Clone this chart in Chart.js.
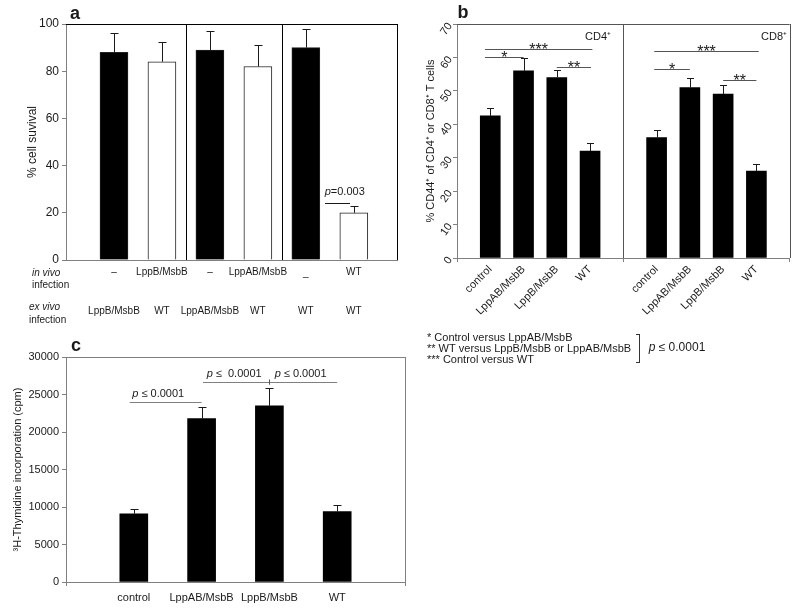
<!DOCTYPE html>
<html>
<head>
<meta charset="utf-8">
<script src="https://cdn.jsdelivr.net/npm/chart.js@4.4.0/dist/chart.umd.min.js"></script>
<style>
  body { margin: 0; background: #fff; }
  #wrap { position: relative; width: 800px; height: 608px; overflow: hidden; }
  canvas { position: absolute; }
</style>
</head>
<body>
<div id="wrap">
  <canvas id="chartA" width="400" height="330" style="left:0;top:0"></canvas>
  <canvas id="chartB" width="400" height="380" style="left:400px;top:0"></canvas>
  <canvas id="chartC" width="420" height="278" style="left:0;top:330px"></canvas>
</div>
<script>
'use strict'

const FONT = '"Liberation Sans", Arial, sans-serif';
const AXIS = '#808080';
const INK = '#1a1a1a';

// panel a : % cell survival
const aInVivo = ['–', 'LppB/MsbB', '–', 'LppAB/MsbB', '_', 'WT'];
const aExVivo = ['LppB/MsbB', 'WT', 'LppAB/MsbB', 'WT', 'WT', 'WT'];
const aSurvival = [88, 84, 89, 82, 90, 20];
const aSurvivalErr = [8, 8.5, 8, 9, 8, 3];
const aTicks = [0, 20, 40, 60, 80, 100];

// panel b : % CD44+ T cells
const bGroups = ['control', 'LppAB/MsbB', 'LppB/MsbB', 'WT'];
const bCD4 = [42.5, 56, 54, 32];
const bCD4Err = [2.4, 3.7, 2.3, 2.3];
const bCD8 = [36, 51, 49, 26];
const bCD8Err = [2.3, 2.8, 2.7, 2.2];
const bTicks = [0, 10, 20, 30, 40, 50, 60, 70];

// panel c : 3H-thymidine incorporation
const cGroups = ['control', 'LppAB/MsbB', 'LppB/MsbB', 'WT'];
const cThymidine = [9100, 21800, 23500, 9400];
const cThymidineErr = [600, 1500, 2400, 800];
const cTicks = [0, 5000, 10000, 15000, 20000, 25000, 30000];

// ---- helpers
function px(v) { return Math.round(v) + 0.5; }

function line(ctx, x1, y1, x2, y2, color) {
  ctx.save();
  ctx.strokeStyle = color || INK;
  ctx.lineWidth = 1;
  ctx.beginPath();
  ctx.moveTo(x1, y1);
  ctx.lineTo(x2, y2);
  ctx.stroke();
  ctx.restore();
}

function text(ctx, s, x, y, size, align, style) {
  ctx.save();
  ctx.font = (style || '') + ' ' + size + 'px ' + FONT;
  ctx.fillStyle = INK;
  ctx.textAlign = align || 'center';
  ctx.textBaseline = 'middle';
  ctx.fillText(s, x, y);
  ctx.restore();
}

// italic p followed by normal text, centred on x
function pText(ctx, rest, x, y, size) {
  ctx.save();
  ctx.font = 'italic ' + size + 'px ' + FONT;
  const wp = ctx.measureText('p').width;
  ctx.font = size + 'px ' + FONT;
  const wr = ctx.measureText(rest).width;
  const x0 = x - (wp + wr) / 2;
  ctx.fillStyle = INK;
  ctx.textBaseline = 'middle';
  ctx.textAlign = 'left';
  ctx.font = 'italic ' + size + 'px ' + FONT;
  ctx.fillText('p', x0, y);
  ctx.font = size + 'px ' + FONT;
  ctx.fillText(rest, x0 + wp, y);
  ctx.restore();
}

const errorBars = {
  id: 'errorBars',
  afterDatasetsDraw(chart) {
    const ctx = chart.ctx;
    const ys = chart.scales.y;
    chart.data.datasets.forEach((ds, i) => {
      chart.getDatasetMeta(i).data.forEach((bar, j) => {
        const top = ys.getPixelForValue(ds.data[j].y + ds.errors[j]);
        const x = px(bar.x);
        line(ctx, x, bar.y, x, px(top));
        line(ctx, x - ds.capHalf, px(top), x + ds.capHalf, px(top));
      });
    });
  }
};

function yAxis(min, max, ticks, title, titlePad, width, size, rot) {
  return {
    min: min, max: max,
    afterBuildTicks: s => { s.ticks = ticks.map(v => ({ value: v })); },
    ticks: { font: { family: FONT, size: size }, color: INK, padding: 3,
      minRotation: rot || 0, maxRotation: rot || 0, callback: v => String(v) },
    grid: { drawOnChartArea: false, tickLength: 4, color: AXIS },
    border: { color: AXIS },
    title: { display: true, text: title, color: INK, font: { family: FONT, size: size },
      padding: { top: titlePad, bottom: 0 } },
    afterFit: s => { s.width = width; }
  };
}

// ---- panel a
const panelA = {
  id: 'panelA',
  afterDraw(chart) {
    const ctx = chart.ctx;
    const a = chart.chartArea;
    const xs = chart.scales.x, ys = chart.scales.y;
    line(ctx, a.left, px(a.top), a.right, px(a.top), '#000');
    line(ctx, px(a.right), a.top, px(a.right), a.bottom, '#000');
    [2.5, 4.5].forEach(v => line(ctx, px(xs.getPixelForValue(v)), a.top, px(xs.getPixelForValue(v)), a.bottom, '#000'));
    aInVivo.forEach((s, i) => text(ctx, s, xs.getPixelForValue(i + 1), s === '_' ? 273 : 272, 10));
    aExVivo.forEach((s, i) => text(ctx, s, xs.getPixelForValue(i + 1), 311, 10));
    text(ctx, 'in vivo', 32, 273, 10, 'left', 'italic');
    text(ctx, 'infection', 32, 285, 10, 'left');
    text(ctx, 'ex vivo', 29, 307, 10, 'left', 'italic');
    text(ctx, 'infection', 29, 320, 10, 'left');
    const ly = px(ys.getPixelForValue(24.3));
    line(ctx, xs.getPixelForValue(5.4), ly, xs.getPixelForValue(5.92), ly);
    pText(ctx, '=0.003', xs.getPixelForValue(5.81), 192, 11);
    text(ctx, 'a', 75, 14, 18, 'center', 'bold');
  }
};

new Chart(document.getElementById('chartA'), {
  type: 'bar',
  data: {
    datasets: [{
      data: aSurvival.map((v, i) => ({ x: i + 1, y: v })),
      errors: aSurvivalErr,
      capHalf: 4,
      backgroundColor: aSurvival.map((v, i) => i % 2 ? '#fff' : '#000'),
      borderColor: '#222',
      borderWidth: 1,
      barThickness: 28,
      grouped: false
    }]
  },
  options: {
    responsive: false,
    animation: false,
    layout: { padding: { top: 24, right: 3, left: 0, bottom: 0 } },
    plugins: { legend: { display: false }, tooltip: { enabled: false } },
    scales: {
      x: {
        type: 'linear', min: 0, max: 6.9, offset: false,
        ticks: { display: false },
        grid: { display: false, offset: false },
        border: { color: AXIS },
        afterFit: s => { s.height = 70; }
      },
      y: yAxis(0, 100, aTicks, '% cell suvival', 25, 66, 12)
    }
  },
  plugins: [errorBars, panelA]
});

// ---- panel b
const bSig = [
  { from: 0.84, to: 4.07, y: 62.5, mark: '***' },
  { from: 0.84, to: 2.0, y: 60, mark: '*' },
  { from: 3.0, to: 4.03, y: 57, mark: '**' },
  { from: 5.93, to: 9.07, y: 61.9, mark: '***' },
  { from: 5.93, to: 7.0, y: 56.5, mark: '*' },
  { from: 8.0, to: 9.0, y: 53.3, mark: '**' }
];

const panelB = {
  id: 'panelB',
  afterDraw(chart) {
    const ctx = chart.ctx;
    const a = chart.chartArea;
    const xs = chart.scales.x, ys = chart.scales.y;
    line(ctx, a.left, px(a.top), a.right, px(a.top), '#555');
    line(ctx, px(a.right), a.top, px(a.right), a.bottom, '#555');
    const d = px(xs.getPixelForValue(5));
    line(ctx, d, a.top, d, a.bottom, '#555');
    bSig.forEach(s => {
      const y = px(ys.getPixelForValue(s.y));
      const x1 = xs.getPixelForValue(s.from), x2 = xs.getPixelForValue(s.to);
      line(ctx, x1, y, x2, y, '#555');
      ctx.save();
      ctx.font = '16px ' + FONT;
      ctx.fillStyle = INK;
      ctx.textAlign = 'center';
      ctx.textBaseline = 'alphabetic';
      ctx.fillText(s.mark, (x1 + x2) / 2, y + 5);
      ctx.restore();
    });
    text(ctx, 'CD4⁺', 211, 37, 11, 'right');
    text(ctx, 'CD8⁺', 387, 37, 11, 'right');
    text(ctx, '* Control versus LppAB/MsbB', 27, 338, 11, 'left');
    text(ctx, '** WT versus LppB/MsbB or LppAB/MsbB', 27, 349, 11, 'left');
    text(ctx, '*** Control versus WT', 27, 360, 11, 'left');
    line(ctx, 239.5, 334, 239.5, 363, '#333');
    line(ctx, 236, 334.5, 240, 334.5, '#333');
    line(ctx, 236, 362.5, 240, 362.5, '#333');
    pText(ctx, ' ≤ 0.0001', 277, 348, 12);
    text(ctx, 'b', 63, 13, 18, 'center', 'bold');
  }
};

new Chart(document.getElementById('chartB'), {
  type: 'bar',
  data: {
    datasets: [
      {
        label: 'CD4+',
        data: bCD4.map((v, i) => ({ x: i + 1, y: v })),
        errors: bCD4Err, capHalf: 3.5,
        backgroundColor: '#000', barThickness: 20, grouped: false
      },
      {
        label: 'CD8+',
        data: bCD8.map((v, i) => ({ x: i + 6, y: v })),
        errors: bCD8Err, capHalf: 3.5,
        backgroundColor: '#000', barThickness: 20, grouped: false
      }
    ]
  },
  options: {
    responsive: false,
    animation: false,
    layout: { padding: { top: 24, right: 9, left: 0, bottom: 0 } },
    plugins: { legend: { display: false }, tooltip: { enabled: false } },
    scales: {
      x: {
        type: 'linear', min: 0, max: 10, offset: false,
        ticks: {
          stepSize: 1, autoSkip: false, minRotation: 45, maxRotation: 45, padding: 1,
          font: { family: FONT, size: 11 }, color: INK,
          callback: v => (v >= 1 && v <= 4) ? bGroups[v - 1] : (v >= 6 && v <= 9) ? bGroups[v - 6] : ''
        },
        grid: {
          drawOnChartArea: false, tickLength: 4, color: AXIS, offset: false,
          tickColor: c => (c.tick && c.tick.value % 5 === 0) ? AXIS : 'rgba(0,0,0,0)'
        },
        border: { color: AXIS },
        afterFit: s => { s.height = 122; }
      },
      y: yAxis(0, 70, bTicks, '% CD44⁺ of CD4⁺ or CD8⁺ T cells', 24, 57, 11, 55)
    }
  },
  plugins: [errorBars, panelB]
});

// ---- panel c
const cSig = [
  { from: 0.94, to: 2.0, y: 24000 },
  { from: 2.02, to: 4.0, y: 26700 }
];
const cSigText = [
  { x: 1.36, y: 24000, s: ' ≤ 0.0001' },
  { x: 2.48, y: 26700, s: ' ≤  0.0001' },
  { x: 3.46, y: 26700, s: ' ≤ 0.0001' }
];

const panelC = {
  id: 'panelC',
  afterDraw(chart) {
    const ctx = chart.ctx;
    const a = chart.chartArea;
    const xs = chart.scales.x, ys = chart.scales.y;
    line(ctx, a.left, px(a.top), a.right, px(a.top), AXIS);
    line(ctx, px(a.right), a.top, px(a.right), a.bottom, AXIS);
    cSig.forEach(s => {
      const y = px(ys.getPixelForValue(s.y));
      line(ctx, xs.getPixelForValue(s.from), y, xs.getPixelForValue(s.to), y, AXIS);
    });
    const t = px(xs.getPixelForValue(3));
    line(ctx, t, ys.getPixelForValue(27000), t, ys.getPixelForValue(26300), '#555');
    cSigText.forEach(s => pText(ctx, s.s, xs.getPixelForValue(s.x), ys.getPixelForValue(s.y) - 8, 11));
    text(ctx, 'c', 76, 16, 18, 'center', 'bold');
  }
};

new Chart(document.getElementById('chartC'), {
  type: 'bar',
  data: {
    datasets: [{
      data: cThymidine.map((v, i) => ({ x: i + 1, y: v })),
      errors: cThymidineErr, capHalf: 4,
      backgroundColor: '#000', barThickness: 28, grouped: false
    }]
  },
  options: {
    responsive: false,
    animation: false,
    layout: { padding: { top: 27, right: 15, left: 0, bottom: 0 } },
    plugins: { legend: { display: false }, tooltip: { enabled: false } },
    scales: {
      x: {
        type: 'linear', min: 0, max: 5, offset: false,
        ticks: {
          stepSize: 1, autoSkip: false, maxRotation: 0, padding: 5,
          font: { family: FONT, size: 11 }, color: INK,
          callback: v => (v >= 1 && v <= 4) ? cGroups[v - 1] : ''
        },
        grid: {
          drawOnChartArea: false, tickLength: 4, color: AXIS, offset: false,
          tickColor: c => (c.tick && c.tick.value % 5 === 0) ? AXIS : 'rgba(0,0,0,0)'
        },
        border: { color: AXIS },
        afterFit: s => { s.height = 26; }
      },
      y: yAxis(0, 30000, cTicks, '³H-Thymidine incorporation (cpm)', 11, 66, 11)
    }
  },
  plugins: [errorBars, panelC]
});
</script>
</body>
</html>
